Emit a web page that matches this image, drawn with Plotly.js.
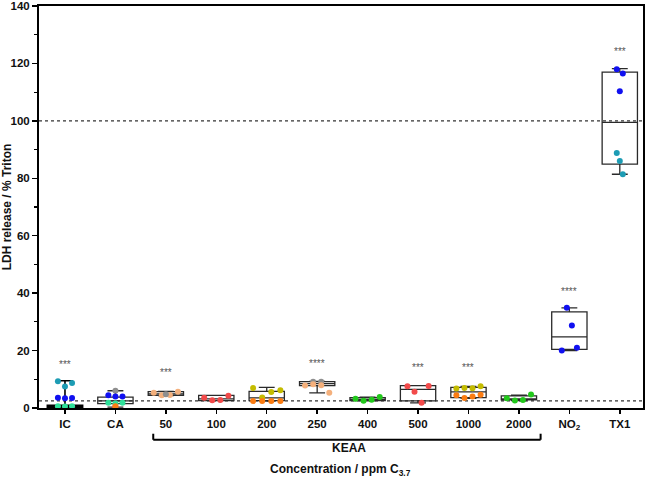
<!DOCTYPE html>
<html>
<head>
<meta charset="utf-8">
<script src="https://cdn.plot.ly/plotly-3.0.1.min.js"></script>
<style>html,body{margin:0;padding:0;background:#fff;}#chart{width:646px;height:477px;}</style>
</head>
<body>
<div id="chart"></div>
<script>
// ---- data ----
var categories = ['IC','CA','50','100','200','250','400','500','1000','2000','NO2','TX1'];
var tickLabels = ['IC','CA','50','100','200','250','400','500','1000','2000','NO<sub>2</sub>','TX1'];
var yTickValues = [0,20,40,60,80,100,120,140];

var lowerFence = [0.0, 0.3, 4.3, 2.6, 2.4, 5.3, 2.5, 1.8, 3.4, 2.6, 20.0, 81.4];
var q1Vals     = [0.1, 1.5, 4.4, 2.6, 2.6, 7.8, 2.6, 2.5, 3.6, 2.8, 20.4, 84.9];
var medianVals = [0.5, 2.5, 4.9, 3.2, 3.5, 8.5, 3.0, 6.5, 5.6, 3.2, 24.8, 99.5];
var q3Vals     = [0.9, 3.8, 5.7, 4.4, 5.8, 9.2, 3.6, 7.8, 7.2, 4.2, 33.5, 117.0];
var upperFence = [9.5, 6.0, 5.8, 4.4, 7.2, 9.3, 3.8, 7.8, 7.5, 4.5, 34.9, 118.2];

// individual replicate values, grouped by colour
var pointsIC   = {teal:[9.3,7.5,8.7], blue:[3.6,3.4,3.5], mint:[0.6,0.5,0.6]};
var pointsCA   = {gray:[6.0], blue:[4.4,4.0,4.0], mint:[1.8,1.6,1.8], red:[0.4], orange:[0.6]};
var points50   = {peach:[5.3,4.4,4.5,5.7], gray:[4.8]};
var points100  = {red:[3.6,2.7,2.8,4.3]};
var points200  = {olive:[7.0,3.7,5.6,6.2], orange:[2.4,2.4,2.4,2.4]};
var points250  = {gray:[9.1,9.1], peach:[7.8,8.3,7.9,5.3]};
var points400  = {green:[3.2,2.5,2.9,3.8]};
var points500  = {red:[7.6,5.7,1.8,7.7]};
var points1000 = {olive:[6.8,7.0,6.9,7.6], orange:[4.4,3.5,4.0,4.6]};
var points2000 = {green:[3.4,2.6,2.8,4.7]};
var pointsNO2  = {blue:[20.0,34.9,28.7,21.0]};
var pointsTX1  = {blue:[118.0,110.3,116.5], teal:[88.8,86.0,81.4]};
var allPoints = [pointsIC,pointsCA,points50,points100,points200,points250,points400,points500,points1000,points2000,pointsNO2,pointsTX1];

var starLabels = ['***','','***','','','****','','***','***','','****','***'];
var starHeights = [15, null, 12.5, null, null, 15.5, null, 14, 14, null, 40.5, 124];

// ---- style ----
var colorMap = {teal:'#1d9cb4', blue:'#1010f0', mint:'#2fe09a', green:'#22c81c', red:'#f24a4a',
  orange:'#fb7c12', peach:'#f4b07c', gray:'#8e8e8e', olive:'#c4bc00'};
var spreadStep = [0.14,0.14,0.16,0.16,0.18,0.16,0.16,0.14,0.16,0.16,0.1,0.06];
var FONT = 'Arial, Liberation Sans, sans-serif';

var idx = categories.map(function(c,i){return i;});
var traces = [];
var sub = idx.slice(1);
traces.push({type:'box', x:sub, q1:sub.map(function(i){return q1Vals[i];}),
  median:sub.map(function(i){return medianVals[i];}), q3:sub.map(function(i){return q3Vals[i];}),
  lowerfence:sub.map(function(i){return lowerFence[i];}), upperfence:sub.map(function(i){return upperFence[i];}),
  boxpoints:false, width:0.7, whiskerwidth:0.45, fillcolor:'rgba(255,255,255,0)',
  line:{color:'#2a2a2a', width:1.3}, hoverinfo:'skip', showlegend:false});
traces.push({type:'box', x:[0], q1:[q1Vals[0]], median:[medianVals[0]], q3:[q3Vals[0]],
  lowerfence:[lowerFence[0]], upperfence:[upperFence[0]], boxpoints:false, width:0.7, whiskerwidth:0.45,
  fillcolor:'#000', line:{color:'#000', width:1.6}, hoverinfo:'skip', showlegend:false});

allPoints.forEach(function(grp, ci){
  Object.keys(grp).forEach(function(col){
    var vals = grp[col], n = vals.length;
    var xs = vals.map(function(v,k){return ci + (k-(n-1)/2)*spreadStep[ci];});
    traces.push({type:'scatter', mode:'markers', x:xs, y:vals,
      marker:{color:colorMap[col], size:6, symbol:'circle', line:{width:0}},
      hoverinfo:'skip', showlegend:false, cliponaxis:false});
  });
});

var annotations = [];
idx.forEach(function(i){
  if (starLabels[i]) annotations.push({x:i, y:starHeights[i], xref:'x', yref:'y', text:starLabels[i],
    showarrow:false, font:{family:FONT, size:10, color:'#555555'}, yanchor:'middle'});
});
annotations.push({x:5.63, y:-0.099, xref:'x', yref:'paper', text:'<b>KEAA</b>', showarrow:false,
  font:{family:FONT, size:12, color:'#111'}, yanchor:'middle'});
annotations.push({x:5.47, y:-0.154, xref:'x', yref:'paper', text:'<b>Concentration / ppm C<sub>3.7</sub></b>', showarrow:false,
  font:{family:FONT, size:12, color:'#111'}, yanchor:'middle'});

var shapes = [
  {type:'line', xref:'paper', yref:'y', x0:0, x1:1, y0:100, y1:100, line:{color:'#333', width:1.2, dash:'dot'}, layer:'below'},
  {type:'line', xref:'paper', yref:'y', x0:0, x1:1, y0:2.5, y1:2.5, line:{color:'#333', width:1.2, dash:'dot'}, layer:'below'},
  {type:'line', xref:'x', yref:'paper', x0:1.75, x1:9.43, y0:-0.079, y1:-0.079, line:{color:'#000', width:2}},
  {type:'line', xref:'x', yref:'paper', x0:1.75, x1:1.75, y0:-0.079, y1:-0.064, line:{color:'#000', width:2}},
  {type:'line', xref:'x', yref:'paper', x0:9.43, x1:9.43, y0:-0.079, y1:-0.064, line:{color:'#000', width:2}}
];

var layout = {
  width:646, height:477,
  margin:{l:39, r:3, t:6, b:69},
  paper_bgcolor:'#fff', plot_bgcolor:'#fff',
  boxmode:'overlay', showlegend:false,
  font:{family:FONT, color:'#111'},
  xaxis:{range:[-0.515,11.46], tickmode:'array', tickvals:idx, ticktext:tickLabels.map(function(t){return '<b>'+t+'</b>';}),
    ticks:'outside', ticklen:4, tickwidth:1.5, tickcolor:'#000', showgrid:false, zeroline:false,
    showline:true, linecolor:'#000', linewidth:2, mirror:true,
    tickfont:{family:FONT, size:11.5, color:'#111'}},
  yaxis:{range:[0,140], tickmode:'array', tickvals:yTickValues,
    ticktext:yTickValues.map(function(t){return '<b>'+t+'</b>';}),
    ticks:'outside', ticklen:5, tickwidth:1.5, tickcolor:'#000', ticklabeloverflow:'allow',
    minor:{tickvals:[10,30,50,70,90,110,130], ticks:'outside', ticklen:3, tickwidth:1.2, tickcolor:'#000'},
    showgrid:false, zeroline:false, showline:true, linecolor:'#000', linewidth:2, mirror:true,
    tickfont:{family:FONT, size:11.5, color:'#111'},
    title:{text:'<b>LDH release / % Triton</b>', font:{family:FONT, size:12, color:'#111'}, standoff:5}},
  annotations:annotations, shapes:shapes
};

Plotly.newPlot('chart', traces, layout, {displayModeBar:false, staticPlot:true});
</script>
</body>
</html>
